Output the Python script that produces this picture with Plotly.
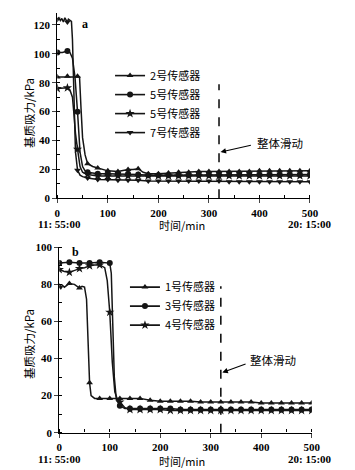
import plotly.graph_objects as go

# ---------------- data: panel a ----------------
a2_t = [0, 10, 20, 30, 40, 44, 47, 50, 55, 60, 70, 80, 90, 100, 120, 140, 150, 160, 170, 180, 200,
        220, 240, 260, 280, 300, 320, 340, 360, 380, 400, 420, 440, 460, 480, 500]
a2_v = [84, 84, 84.5, 84, 84.5, 84, 62, 42, 30, 24, 22, 21, 20, 19, 18.5, 20, 20, 20.5, 18, 17, 17,
        17.5, 18, 18, 18.5, 18.5, 18.5, 18.5, 18.5, 18.5, 19, 19, 19, 19, 19, 19]

a5_t = [0, 10, 20, 25, 30, 35, 40, 45, 50, 55, 60, 80, 100, 120, 140, 160, 180, 200,
        220, 240, 260, 280, 300, 320, 340, 360, 380, 400, 420, 440, 460, 480, 500]
a5_v = [101, 101, 102, 101, 97, 84, 60, 32, 22, 19, 18, 17, 17, 17, 17, 16.5, 16, 16,
        16, 16, 16, 16.5, 16.5, 16.5, 16.5, 16.5, 16.5, 16.5, 16.5, 16.5, 16.5, 16.5, 16.5]

a5b_t = [0, 10, 20, 25, 30, 33, 36, 40, 45, 50, 60, 80, 100, 120, 140, 160, 180, 200,
         220, 240, 260, 280, 300, 320, 340, 360, 380, 400, 420, 440, 460, 480, 500]
a5b_v = [76, 76, 76.5, 75, 70, 58, 45, 34, 22, 18, 16.5, 15.5, 15.5, 15.5, 15.5, 15.5, 15.5, 15.5,
         15.5, 15.5, 15.5, 15.5, 15.5, 15.5, 15.5, 15.5, 15.5, 15.5, 15.5, 15.5, 15.5, 15.5, 15.5]

a7_t = [0, 3, 6, 9, 12, 15, 18, 20, 22, 25, 28, 30, 33, 36, 40, 45, 50, 60, 80, 100, 120, 140,
        160, 180, 200, 220, 240, 260, 280, 300, 320, 340, 360, 380, 400, 420, 440, 460, 480, 500]
a7_v = [124, 125, 123, 124.5, 122, 125, 123, 122, 124, 123, 122.5, 110, 62, 32, 19.5, 16, 15, 14, 13, 13, 12.5, 12.5,
        12.5, 12, 12, 12, 12, 12, 12, 12, 12, 11.5, 11.5, 11.5, 11.5, 11.5, 11.5, 11.5, 11.5, 11.5]

# ---------------- data: panel b ----------------
b1_t = [0, 3, 6, 10, 15, 20, 30, 40, 45, 50, 54, 57, 60, 63, 70, 80, 100, 120, 140, 160, 180, 200,
        220, 240, 260, 280, 300, 320, 340, 360, 380, 400, 420, 440, 460, 480, 500]
b1_v = [79, 77.5, 79.5, 78.5, 79.5, 80.5, 80, 78, 79, 78.5, 72, 48, 27, 20, 18.5, 18.5, 18.5, 18.5, 18.5, 18.5, 17.5, 17,
        17, 17, 17, 16.5, 16.5, 16.5, 16.5, 16.5, 16.5, 16, 16, 16, 16, 16, 16]

b3_t = [0, 20, 40, 60, 80, 100, 103, 106, 109, 113, 120, 130, 140, 160, 180, 200,
        220, 240, 260, 280, 300, 320, 340, 360, 380, 400, 420, 440, 460, 480, 500]
b3_v = [91.5, 92, 91.5, 91.5, 92, 91.5, 86, 58, 30, 18, 14.5, 13, 13, 13, 13, 13,
        13, 12.5, 12.5, 12.5, 12.5, 12.5, 12.5, 12.5, 12.5, 12.5, 12.5, 12.5, 12.5, 12.5, 12.5]

b4_t = [0, 10, 20, 30, 40, 50, 60, 70, 80, 90, 95, 100, 105, 110, 115, 120, 130, 140, 160, 180, 200,
        220, 240, 260, 280, 300, 320, 340, 360, 380, 400, 420, 440, 460, 480, 500]
b4_v = [88, 87, 86.5, 87.5, 88.5, 89, 90, 90.5, 90.5, 89, 82, 65, 38, 22, 18, 16.5, 13.5, 12.5, 12.5, 12.5, 12.5,
        12, 12, 12, 12, 12, 12, 12, 12, 12, 12, 12, 12, 12, 12, 12]

slide_t = 320
slide_top = 79
x_ticks = [0, 100, 200, 300, 400, 500]
time_start = "11: 55:00"
time_end = "20: 15:00"
y_title = "基质吸力/kPa"
x_title = "时间/min"
slide_label = "整体滑动"

series_a = [("2号传感器", a2_t, a2_v, "triangle-up"),
            ("5号传感器", a5_t, a5_v, "circle"),
            ("5号传感器", a5b_t, a5b_v, "star"),
            ("7号传感器", a7_t, a7_v, "triangle-down")]
series_b = [("1号传感器", b1_t, b1_v, "triangle-up"),
            ("3号传感器", b3_t, b3_v, "circle"),
            ("4号传感器", b4_t, b4_v, "star")]

LINE = "#151515"
SERIF = "Liberation Serif, Noto Sans CJK SC"
CJK = "Noto Sans CJK SC, Liberation Serif"

fig = go.Figure()


def add_series(series, xa, ya, legend):
    for name, t, v, sym in series:
        fig.add_trace(go.Scatter(x=t, y=v, mode="lines", xaxis=xa, yaxis=ya,
                                 line=dict(color=LINE, width=1.5), showlegend=False))
        mt = [tt for tt in t if tt % 20 == 0]
        mv = [vv for tt, vv in zip(t, v) if tt % 20 == 0]
        fig.add_trace(go.Scatter(x=mt, y=mv, mode="markers", xaxis=xa, yaxis=ya,
                                 marker=dict(symbol=sym, color=LINE, size=6 if sym != "star" else 7),
                                 showlegend=False))
        fig.add_trace(go.Scatter(x=[None], y=[None], mode="lines+markers", xaxis=xa, yaxis=ya,
                                 name=name, legend=legend,
                                 line=dict(color=LINE, width=1.6),
                                 marker=dict(symbol=sym, color=LINE, size=6 if sym != "star" else 7)))
    fig.add_trace(go.Scatter(x=[slide_t, slide_t], y=[0, slide_top], mode="lines", xaxis=xa, yaxis=ya,
                             line=dict(color=LINE, width=1.6, dash="dash"), showlegend=False))


add_series(series_a, "x", "y", "legend")
add_series(series_b, "x2", "y2", "legend2")

xcommon = dict(range=[0, 500], tickvals=x_ticks, ticks="outside", ticklen=4, tickwidth=1.2,
               showline=True, linecolor="black", linewidth=1.4, showgrid=False, zeroline=False,
               automargin=False,
               tickfont=dict(family=SERIF, size=11, color="black", weight="bold"),
               minor=dict(dtick=50, ticks="inside", ticklen=3, tickwidth=1, tickcolor="black", showgrid=False))
ycommon = dict(ticks="outside", ticklen=4, tickwidth=1.2, dtick=20,
               showline=True, linecolor="black", linewidth=1.4, showgrid=False, zeroline=False,
               automargin=False,
               tickfont=dict(family=SERIF, size=11, color="black", weight="bold"),
               minor=dict(dtick=10, ticks="inside", ticklen=3, tickwidth=1, tickcolor="black", showgrid=False))

fig.update_layout(
    width=355, height=470, margin=dict(l=0, r=0, t=0, b=0, autoexpand=False),
    paper_bgcolor="white", plot_bgcolor="white",
    xaxis=dict(domain=[0.1614, 0.8732], anchor="y", **xcommon),
    yaxis=dict(domain=[0.5781, 0.973], anchor="x", range=[0, 128.5], **ycommon),
    xaxis2=dict(domain=[0.167, 0.878], anchor="y2", **xcommon),
    yaxis2=dict(domain=[0.0794, 0.4738], anchor="x2", range=[0, 100], **ycommon),
    legend=dict(x=0.31, y=0.87, xanchor="left", yanchor="top", bgcolor="rgba(0,0,0,0)",
                font=dict(family=CJK, size=11, color="black"), tracegroupgap=0, itemwidth=30),
    legend2=dict(x=0.352, y=0.42, xanchor="left", yanchor="top", bgcolor="rgba(0,0,0,0)",
                 font=dict(family=CJK, size=11, color="black"), tracegroupgap=0, itemwidth=30),
    showlegend=True,
)

ann_font = dict(family=CJK, size=11.5, color="black")
tick_font = dict(family=SERIF, size=11, color="black", weight="bold")
for xa, ya, label, lx, y_lab, tx, ty, tail_x, tail_y, head_y in [
        ("x", "y", "a", 0.09, 120.7, 392, 38.5, 386, 37, 32),
        ("x2", "y2", "b", 0.042, 97.5, 374, 39.2, 372, 37.3, 32.5)]:
    fig.add_annotation(x=slide_t + 3, y=head_y, ax=tail_x, ay=tail_y, xref=xa, yref=ya, axref=xa, ayref=ya,
                       text="", showarrow=True, arrowhead=2, arrowsize=1, arrowwidth=1.1, arrowcolor="black")
    fig.add_annotation(x=tx, y=ty, xref=xa, yref=ya, text=slide_label, showarrow=False,
                       xanchor="left", yanchor="middle", font=ann_font)
    fig.add_annotation(x=lx, y=y_lab, xref=xa + " domain", yref=ya, text=label,
                       showarrow=False, xanchor="left", yanchor="middle",
                       font=dict(family=SERIF, size=12, color="black", weight="bold"))

# y-axis titles
for yc in [113, 344]:
    fig.add_annotation(x=29 / 355, y=1 - yc / 470, xref="paper", yref="paper", text=y_title, textangle=-90,
                       showarrow=False, xanchor="center", yanchor="middle",
                       font=dict(family=CJK, size=11.5, color="black"))

for yc in [223.5, 459]:
    yp = 1 - yc / 470
    fig.add_annotation(x=59 / 355, y=yp, xref="paper", yref="paper", text=time_start, showarrow=False,
                       xanchor="center", yanchor="middle", font=tick_font)
    fig.add_annotation(x=182 / 355, y=yp - 1.5 / 470, xref="paper", yref="paper", text=x_title, showarrow=False,
                       xanchor="center", yanchor="middle", font=dict(family=CJK, size=11, color="black"))
    fig.add_annotation(x=310 / 355, y=yp, xref="paper", yref="paper", text=time_end, showarrow=False,
                       xanchor="center", yanchor="middle", font=tick_font)

fig.write_html("out.html", config={"displayModeBar": False},
               post_script="document.body.style.margin='0';document.body.style.overflow='hidden';")
